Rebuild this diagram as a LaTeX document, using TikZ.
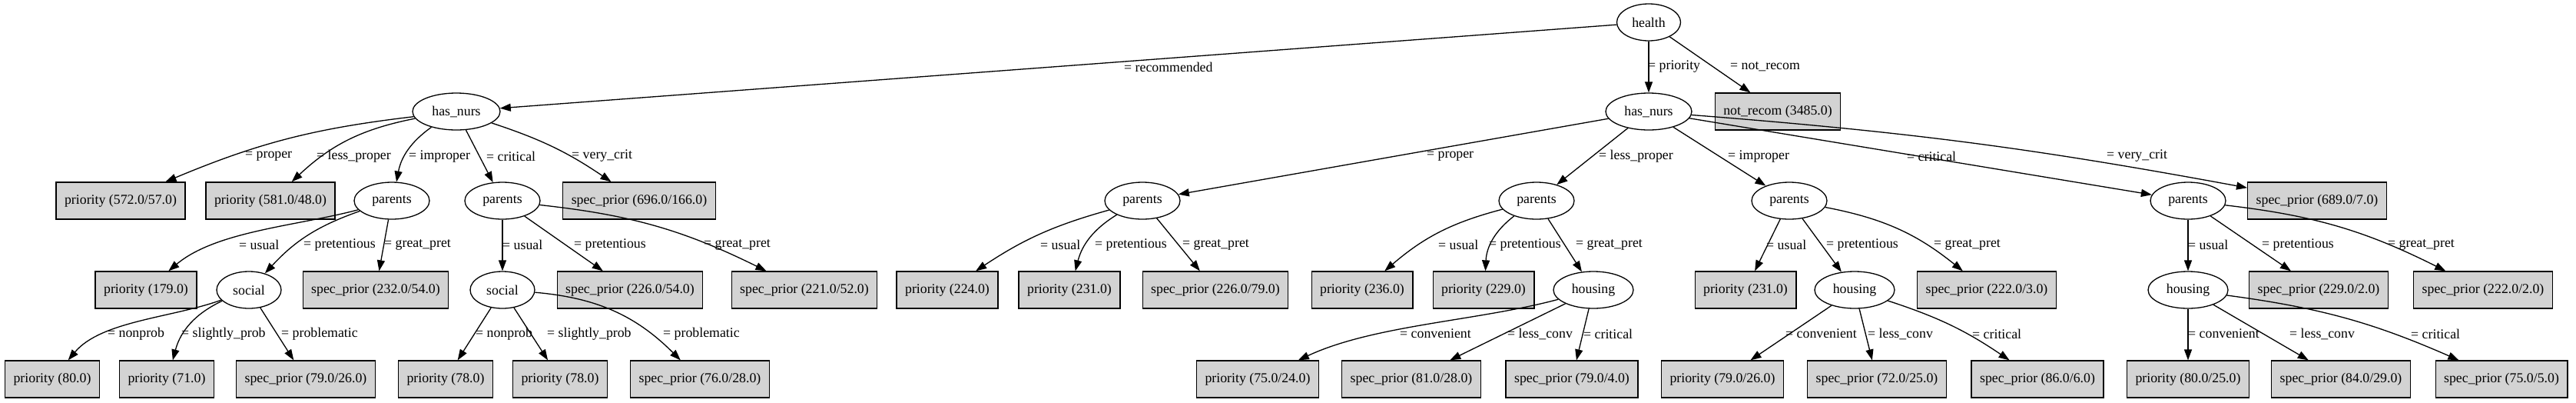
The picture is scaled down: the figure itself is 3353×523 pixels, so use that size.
\documentclass[tikz,border=0pt]{standalone}
\usepackage{fontspec}
\setmainfont{Liberation Serif}
\usetikzlibrary{shapes.geometric,arrows.meta}
\definecolor{leafgray}{RGB}{211,211,211}
\tikzset{
  attr/.style={draw, ellipse, line width=1.3pt, minimum width=#1, minimum height=48pt, inner sep=0pt},
  leaf/.style={draw, rectangle, fill=leafgray, line width=1.3pt, minimum height=48pt, inner xsep=11pt, inner ysep=0pt},
  lbl/.style={anchor=west, inner sep=0pt},
  link/.style={-{Triangle[length=14pt, width=10pt]}, line width=1.3pt}
}
\begin{document}
\begin{tikzpicture}[x=1pt, y=1pt, font=\fontsize{17.8}{21}\selectfont]
\useasboundingbox (0,0) rectangle (3353,-523);
\node [attr=83pt]  (health) at (2146,-29) {health};
\node [attr=114pt] (hnL) at (594,-145) {has\_nurs};
\node [attr=112pt] (hnR) at (2146,-145) {has\_nurs};
\node [leaf] (notrec) at (2314,-145) {not\_recom (3485.0)};
\node [leaf] (l1) at (157,-261) {priority (572.0/57.0)};
\node [leaf] (l2) at (352,-261) {priority (581.0/48.0)};
\node [attr=98pt] (pa1) at (510,-261) {parents};
\node [attr=98pt] (pa2) at (654,-261) {parents};
\node [leaf] (l3) at (832,-261) {spec\_prior (696.0/166.0)};
\node [attr=98pt] (pa3) at (1487,-261) {parents};
\node [attr=98pt] (pa4) at (2000,-261) {parents};
\node [attr=98pt] (pa5) at (2329,-261) {parents};
\node [attr=98pt] (pa6) at (2848,-261) {parents};
\node [leaf] (l4) at (3016,-261) {spec\_prior (689.0/7.0)};
\node [leaf] (l5) at (190,-377) {priority (179.0)};
\node [attr=84pt] (so1) at (324,-377) {social};
\node [leaf] (l6) at (489,-377) {spec\_prior (232.0/54.0)};
\node [attr=84pt] (so2) at (654,-377) {social};
\node [leaf] (l7) at (820,-377) {spec\_prior (226.0/54.0)};
\node [leaf] (l8) at (1047,-377) {spec\_prior (221.0/52.0)};
\node [leaf] (l9) at (1233,-377) {priority (224.0)};
\node [leaf] (l10) at (1392,-377) {priority (231.0)};
\node [leaf] (l11) at (1582,-377) {spec\_prior (226.0/79.0)};
\node [leaf] (l12) at (1773,-377) {priority (236.0)};
\node [leaf] (l13) at (1931,-377) {priority (229.0)};
\node [attr=104pt] (ho1) at (2074,-377) {housing};
\node [leaf] (l14) at (2272,-377) {priority (231.0)};
\node [attr=104pt] (ho2) at (2414,-377) {housing};
\node [leaf] (l15) at (2586,-377) {spec\_prior (222.0/3.0)};
\node [attr=104pt] (ho3) at (2848,-377) {housing};
\node [leaf] (l16) at (3018,-377) {spec\_prior (229.0/2.0)};
\node [leaf] (l17) at (3232,-377) {spec\_prior (222.0/2.0)};
\node [leaf] (l18) at (68,-493) {priority (80.0)};
\node [leaf] (l19) at (217,-493) {priority (71.0)};
\node [leaf] (l20) at (398,-493) {spec\_prior (79.0/26.0)};
\node [leaf] (l21) at (580,-493) {priority (78.0)};
\node [leaf] (l22) at (729,-493) {priority (78.0)};
\node [leaf] (l23) at (911,-493) {spec\_prior (76.0/28.0)};
\node [leaf] (l24) at (1637,-493) {priority (75.0/24.0)};
\node [leaf] (l25) at (1837,-493) {spec\_prior (81.0/28.0)};
\node [leaf] (l26) at (2046,-493) {spec\_prior (79.0/4.0)};
\node [leaf] (l27) at (2242,-493) {priority (79.0/26.0)};
\node [leaf] (l28) at (2443,-493) {spec\_prior (72.0/25.0)};
\node [leaf] (l29) at (2652,-493) {spec\_prior (86.0/6.0)};
\node [leaf] (l30) at (2848,-493) {priority (80.0/25.0)};
\node [leaf] (l31) at (3047,-493) {spec\_prior (84.0/29.0)};
\node [leaf] (l32) at (3256,-493) {spec\_prior (75.0/5.0)};
\node [lbl] (e1) at (1463,-87) {= recommended};
\node [lbl] (e2) at (2145,-87) {= priority};
\node [lbl] (e3) at (2252,-87) {= not\_recom};
\node [lbl] (e4) at (319,-203) {= proper};
\node [lbl] (e5) at (412,-203) {= less\_proper};
\node [lbl] (e6) at (532,-203) {= improper};
\node [lbl] (e7) at (633,-203) {= critical};
\node [lbl] (e8) at (744,-203) {= very\_crit};
\node [lbl] (e9) at (1857,-203) {= proper};
\node [lbl] (e10) at (2081,-203) {= less\_proper};
\node [lbl] (e11) at (2249,-203) {= improper};
\node [lbl] (e12) at (2482,-203) {= critical};
\node [lbl] (e13) at (2742,-203) {= very\_crit};
\node [lbl] (e14) at (311,-318) {= usual};
\node [lbl] (e15) at (395,-318) {= pretentious};
\node [lbl] (e16) at (500,-318) {= great\_pret};
\node [lbl] (e17) at (654,-318) {= usual};
\node [lbl] (e18) at (747,-318) {= pretentious};
\node [lbl] (e19) at (916,-318) {= great\_pret};
\node [lbl] (e20) at (1354,-318) {= usual};
\node [lbl] (e21) at (1425,-318) {= pretentious};
\node [lbl] (e22) at (1539,-318) {= great\_pret};
\node [lbl] (e23) at (1872,-318) {= usual};
\node [lbl] (e24) at (1938,-318) {= pretentious};
\node [lbl] (e25) at (2051,-318) {= great\_pret};
\node [lbl] (e26) at (2299,-318) {= usual};
\node [lbl] (e27) at (2377,-318) {= pretentious};
\node [lbl] (e28) at (2517,-318) {= great\_pret};
\node [lbl] (e29) at (2848,-318) {= usual};
\node [lbl] (e30) at (2944,-318) {= pretentious};
\node [lbl] (e31) at (3108,-318) {= great\_pret};
\node [lbl] (e32) at (140,-434) {= nonprob};
\node [lbl] (e33) at (236,-434) {= slightly\_prob};
\node [lbl] (e34) at (366,-434) {= problematic};
\node [lbl] (e35) at (619,-434) {= nonprob};
\node [lbl] (e36) at (712,-434) {= slightly\_prob};
\node [lbl] (e37) at (863,-434) {= problematic};
\node [lbl] (e38) at (1822,-434) {= convenient};
\node [lbl] (e39) at (1962,-434) {= less\_conv};
\node [lbl] (e40) at (2061,-434) {= critical};
\node [lbl] (e41) at (2324,-434) {= convenient};
\node [lbl] (e42) at (2431,-434) {= less\_conv};
\node [lbl] (e43) at (2567,-434) {= critical};
\node [lbl] (e44) at (2848,-434) {= convenient};
\node [lbl] (e45) at (2980,-434) {= less\_conv};
\node [lbl] (e46) at (3138,-434) {= critical};
\draw [link] (health) -- (hnL);
\draw [link] (health) -- (hnR);
\draw [link] (health) -- (notrec);
\draw [link] (hnL) to[bend right=8] (l1);
\draw [link] (hnL) to[bend right=16] (l2);
\draw [link] (hnL) to[bend right=22] (pa1);
\draw [link] (hnL) -- (pa2);
\draw [link] (hnL) to[bend left=8] (l3);
\draw [link] (pa1) to[out=195, in=40, looseness=0.8] (l5);
\draw [link] (pa1) to[bend right=14] (so1);
\draw [link] (pa1) -- (l6);
\draw [link] (pa2) -- (so2);
\draw [link] (pa2) -- (l7);
\draw [link] (pa2) to[bend left=10] (l8);
\draw [link] (so1) to[out=200, in=50, looseness=0.8] (l18);
\draw [link] (so1) to[bend right=25] (l19);
\draw [link] (so1) -- (l20);
\draw [link] (so2) -- (l21);
\draw [link] (so2) -- (l22);
\draw [link] (so2) to[bend left=20] (l23);
\draw [link] (hnR) -- (pa3);
\draw [link] (hnR) -- (pa4);
\draw [link] (hnR) -- (pa5);
\draw [link] (hnR) -- (pa6);
\draw [link] (hnR) to[bend left=3] (l4);
\draw [link] (pa3) to[bend right=9] (l9);
\draw [link] (pa3) to[bend right=22] (l10);
\draw [link] (pa3) -- (l11);
\draw [link] (pa4) to[bend right=13] (l12);
\draw [link] (pa4) to[bend right=25] (l13);
\draw [link] (pa4) -- (ho1);
\draw [link] (ho1) to[out=195, in=25, looseness=0.8] (l24);
\draw [link] (ho1) -- (l25);
\draw [link] (ho1) -- (l26);
\draw [link] (pa5) -- (l14);
\draw [link] (pa5) -- (ho2);
\draw [link] (pa5) to[bend left=14] (l15);
\draw [link] (pa6) -- (ho3);
\draw [link] (pa6) -- (l16);
\draw [link] (pa6) to[bend left=10] (l17);
\draw [link] (ho2) -- (l27);
\draw [link] (ho2) -- (l28);
\draw [link] (ho2) to[bend left=8] (l29);
\draw [link] (ho3) -- (l30);
\draw [link] (ho3) -- (l31);
\draw [link] (ho3) to[bend left=8] (l32);
\end{tikzpicture}
\end{document}
